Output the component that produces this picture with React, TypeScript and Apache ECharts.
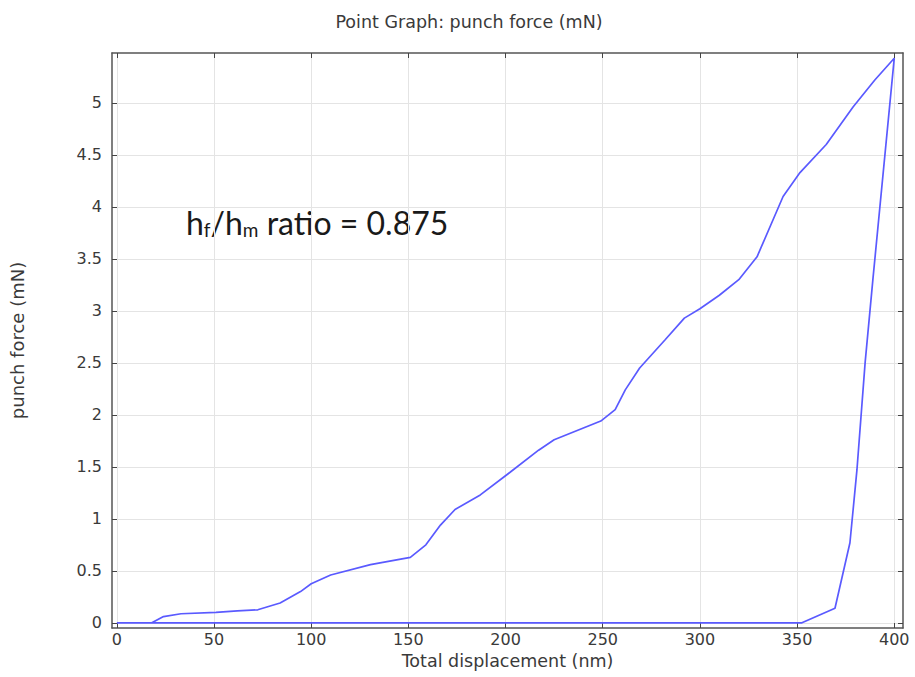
import React, { useEffect, useRef } from "react";
import * as echarts from "echarts";

// Loading curve (displacement nm, force mN)
const loadX = [0, 18, 24, 33, 51, 62, 72.5, 84, 94.5, 100, 110, 130.5, 151, 159, 166.5, 174, 187, 202.5, 217, 225, 241, 249, 256.4, 261.6, 269, 282, 292, 300, 310, 320, 329.4, 342.8, 351.5, 365, 378.8, 390, 400];
const loadY = [0, 0, 0.06, 0.087, 0.1, 0.115, 0.125, 0.19, 0.3, 0.375, 0.46, 0.56, 0.63, 0.75, 0.94, 1.09, 1.23, 1.45, 1.66, 1.76, 1.88, 1.94, 2.05, 2.24, 2.45, 2.72, 2.93, 3.02, 3.15, 3.3, 3.52, 4.1, 4.33, 4.6, 4.96, 5.22, 5.43];
// Unloading curve
const unloadX = [400, 389, 385, 380.8, 377.2, 369.5, 352.5, 0];
const unloadY = [5.43, 3.3, 2.5, 1.47, 0.77, 0.14, 0, 0];

const xTicks = [0, 50, 100, 150, 200, 250, 300, 350, 400];
const yTicks = [0, 0.5, 1, 1.5, 2, 2.5, 3, 3.5, 4, 4.5, 5];

const title = "Point Graph: punch force (mN)";
const xName = "Total displacement (nm)";
const yName = "punch force (mN)";

export default function App() {
  const ref = useRef<HTMLDivElement>(null);
  useEffect(() => {
    const chart = echarts.init(ref.current!, null, { renderer: "svg" });
    const data: number[][] = [];
    loadX.forEach((x, i) => data.push([x, loadY[i]]));
    unloadX.forEach((x, i) => data.push([x, unloadY[i]]));
    const font = "DejaVu Sans";
    const textCol = "#3a3a3a";
    const frame = { lineStyle: { color: "#555", width: 1.5 } };
    const tickIn = (vals: number[]) => ({
      show: true,
      inside: true,
      length: 5,
      customValues: vals,
      lineStyle: { color: "#444", width: 1 },
    });
    chart.setOption({
      animation: false,
      backgroundColor: "#fff",
      title: {
        text: title,
        left: 464,
        textAlign: "center",
        top: 8,
        textStyle: { fontFamily: font, fontSize: 17.5, fontWeight: "normal", color: textCol },
      },
      grid: { left: 111, right: 12, top: 53, bottom: 49 },
      xAxis: [
        {
          type: "value",
          min: -2.5,
          max: 404.5,
          position: "bottom",
          name: xName,
          nameLocation: "middle",
          nameGap: 22,
          nameTextStyle: { fontFamily: font, fontSize: 17.5, color: textCol },
          axisLine: { show: true, onZero: false, ...frame },
          axisTick: tickIn(xTicks),
          axisLabel: { customValues: xTicks, fontFamily: font, fontSize: 16, color: textCol, margin: 3 },
          splitLine: { show: true, lineStyle: { color: "#e4e4e4", width: 1 } },
        },
        {
          type: "value",
          min: -2.5,
          max: 404.5,
          position: "top",
          axisLine: { show: true, onZero: false, ...frame },
          axisTick: tickIn(xTicks),
          axisLabel: { show: false },
          splitLine: { show: false },
        },
      ],
      yAxis: [
        {
          type: "value",
          min: -0.05,
          max: 5.48,
          position: "left",
          name: yName,
          nameLocation: "middle",
          nameGap: 86,
          nameRotate: 90,
          nameTextStyle: { fontFamily: font, fontSize: 18, color: textCol },
          axisLine: { show: true, onZero: false, ...frame },
          axisTick: tickIn(yTicks),
          axisLabel: { customValues: yTicks, fontFamily: font, fontSize: 16, color: textCol, margin: 10 },
          splitLine: { show: true, lineStyle: { color: "#e4e4e4", width: 1 } },
        },
        {
          type: "value",
          min: -0.05,
          max: 5.48,
          position: "right",
          axisLine: { show: true, onZero: false, ...frame },
          axisTick: tickIn(yTicks),
          axisLabel: { show: false },
          splitLine: { show: false },
        },
      ],
      series: [
        {
          type: "line",
          data,
          xAxisIndex: 0,
          yAxisIndex: 0,
          showSymbol: false,
          symbol: "none",
          lineStyle: { color: "#5a5aff", width: 1.7 },
          z: 3,
        },
      ],
      graphic: [
        {
          type: "text",
          x: 186,
          y: 205,
          style: {
            text: "{m|h}{sub|f}{m|/h}{sub|m}{m| ratio = 0.875}",
            fill: "#1a1a1a",
            rich: {
              m: { fontFamily: "Lato", fontSize: 32, lineHeight: 34, verticalAlign: "middle", fill: "#1a1a1a" },
              sub: { fontFamily: "Lato", fontSize: 19, lineHeight: 8, verticalAlign: "bottom", fill: "#1a1a1a" },
            },
          },
        },
      ],
    });
    return () => chart.dispose();
  }, []);
  return <div ref={ref} style={{ position: "fixed", left: 0, top: 0, width: 915, height: 677 }} />;
}
